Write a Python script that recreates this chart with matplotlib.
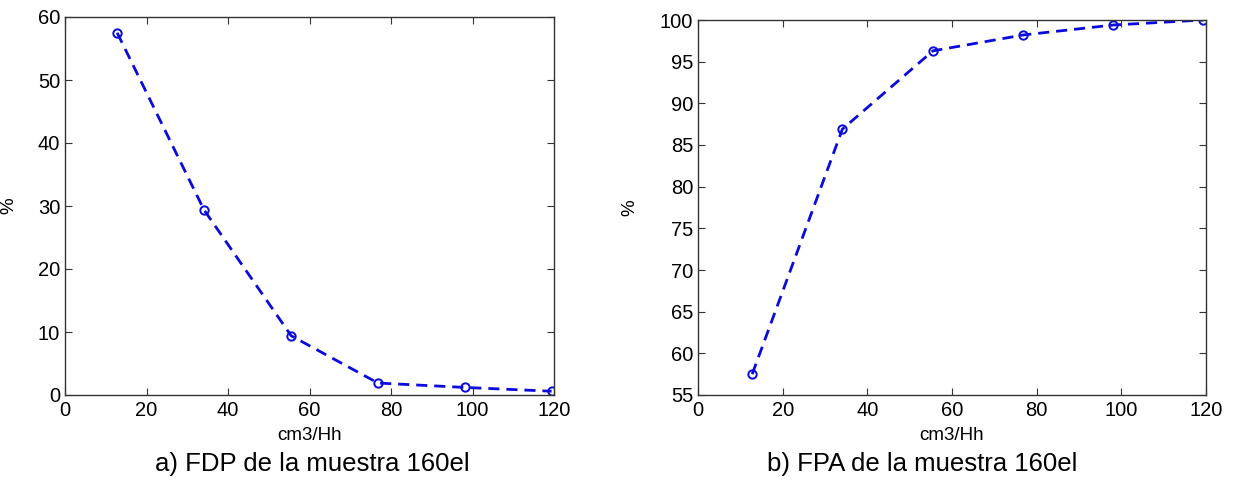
import matplotlib
matplotlib.use("Agg")
import matplotlib.pyplot as plt

plt.rcParams['font.family'] = ['Liberation Sans', 'DejaVu Sans']

# Data
x_vals = [12.8, 34.1, 55.5, 76.8, 98.1, 119.4]
fdp_vals = [57.5, 29.4, 9.4, 1.9, 1.2, 0.6]
fpa_vals = [57.5, 86.9, 96.3, 98.2, 99.4, 100.0]
x_ticks = [0, 20, 40, 60, 80, 100, 120]
fdp_yticks = [0, 10, 20, 30, 40, 50, 60]
fpa_yticks = [55, 60, 65, 70, 75, 80, 85, 90, 95, 100]
xlabel_text = "cm3/Hh"
ylabel_text = "%"
title_a = "a) FDP de la muestra 160el"
title_b = "b) FPA de la muestra 160el"

W, H = 1234, 482
fig = plt.figure(figsize=(W / 100, H / 100), dpi=100)

def px_axes(l, t, r, b):
    return fig.add_axes([l / W, 1 - b / H, (r - l) / W, (b - t) / H])

ax1 = px_axes(65, 17, 554, 395)
ax2 = px_axes(698, 20, 1206, 395)

line_color = '#0a0adc'

for ax, yv, yt in [(ax1, fdp_vals, fdp_yticks), (ax2, fpa_vals, fpa_yticks)]:
    ax.plot(x_vals, yv, linestyle=(0, (4, 2.5)), color=line_color, lw=2.0,
            marker='o', markersize=6, markerfacecolor='none',
            markeredgecolor=line_color, markeredgewidth=1.4)
    ax.set_xlim(0, 120)
    ax.set_ylim(yt[0], yt[-1])
    ax.set_xticks(x_ticks)
    ax.set_yticks(yt)
    ax.tick_params(direction='in', top=True, right=True, length=5,
                   width=0.8, labelsize=14.5, color='#333333')
    ax.tick_params(axis='x', pad=4.5)
    ax.tick_params(axis='y', pad=3.5)
    for s in ax.spines.values():
        s.set_color('#333333')
        s.set_linewidth(1.0)
    ax.set_xlabel(xlabel_text, fontsize=13.5, labelpad=5)

ax1.set_ylabel(ylabel_text, fontsize=13.5)
ax2.set_ylabel(ylabel_text, fontsize=13.5)
ax1.yaxis.set_label_coords((17 - 65) / (554 - 65), 0.5)
ax2.yaxis.set_label_coords((638 - 698) / (1206 - 698), 0.5)

fig.text(312 / W, 1 - 464 / H, title_a, ha='center', va='center', fontsize=18.5)
fig.text(922 / W, 1 - 464 / H, title_b, ha='center', va='center', fontsize=18.5)

fig.savefig("out.png", dpi=100)
